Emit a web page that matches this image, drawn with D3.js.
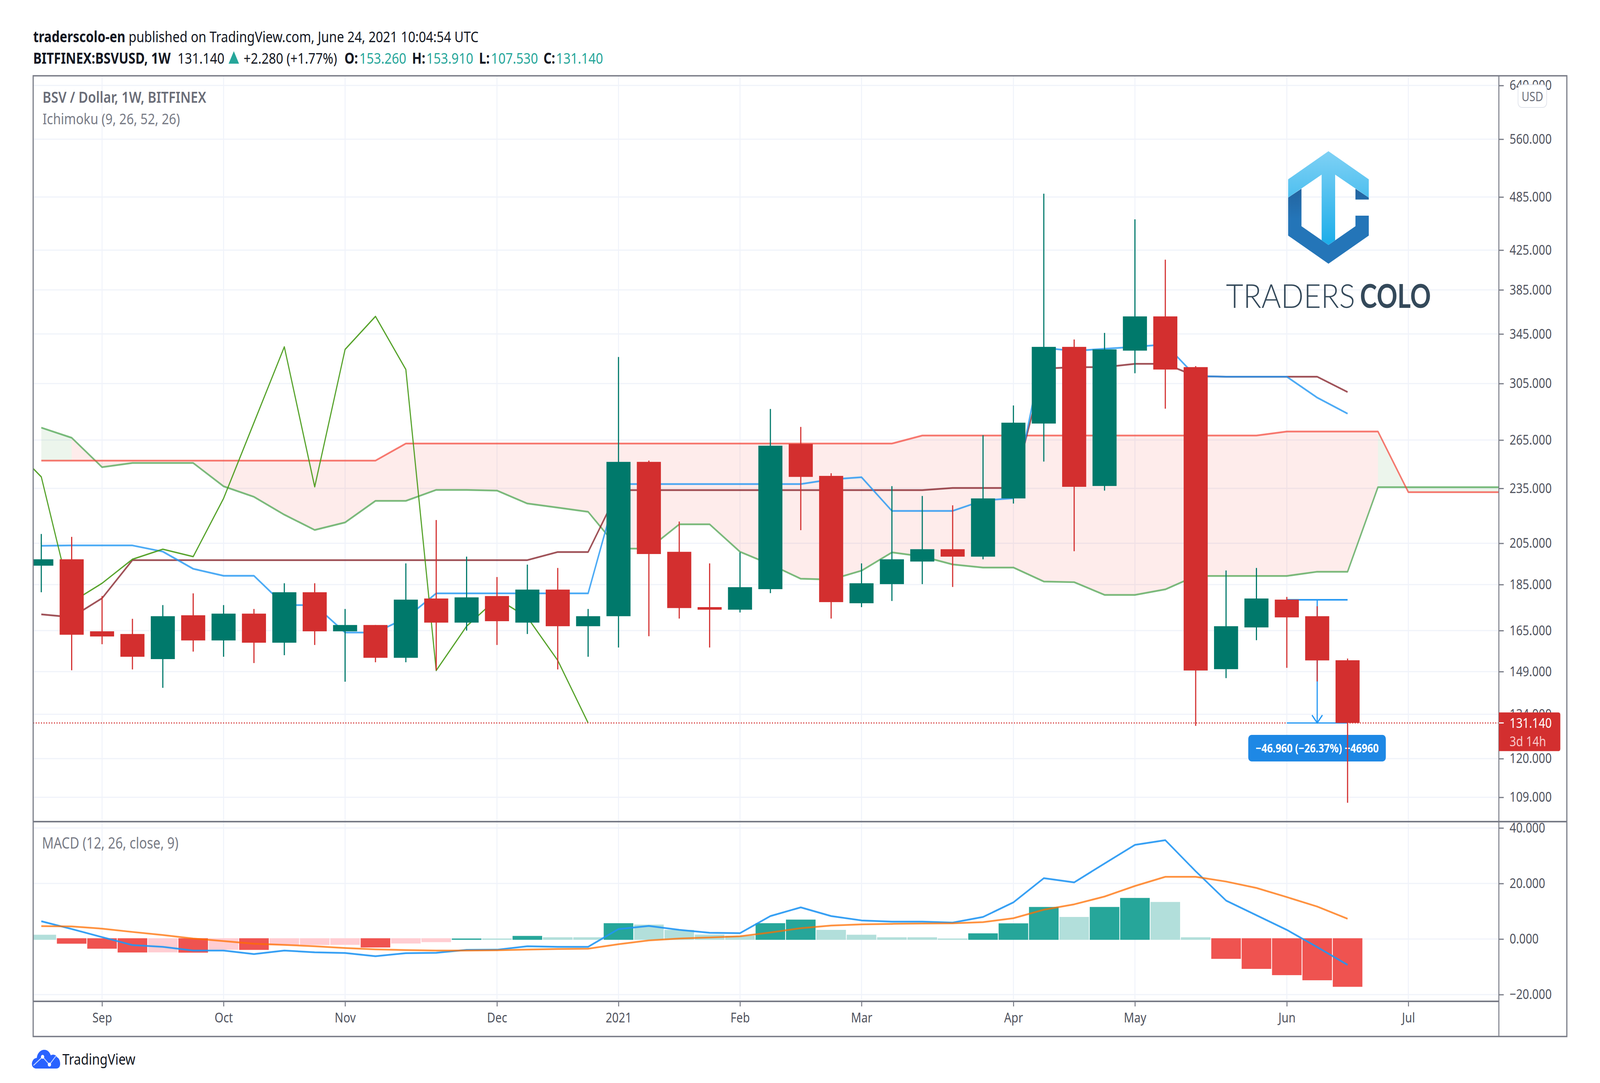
<!DOCTYPE html>
<html>
<head>
<meta charset="utf-8">
<style>
  html, body { margin: 0; padding: 0; background: #fff; width: 100%; height: 100%; overflow: hidden; }
  svg { display: block; width: 100vw; height: 100vh; font-family: "Noto Sans", sans-serif; }
</style>
<script src="https://cdn.jsdelivr.net/npm/d3@7/dist/d3.min.js"></script>
</head>
<body>
<div id="container"></div>
<script>
// weekly candles, index 0 = week of 17 Aug 2020
const open = [193.9,197.0,164.7,163.6,153.7,171.4,161.0,172.1,160.1,181.5,164.7,167.3,154.2,178.7,168.3,179.8,168.3,182.7,166.8,171.0,251.0,200.7,174.9,173.8,182.9,262.5,242.4,176.6,185.2,195.9,202.0,198.3,229.2,276.1,334.1,236.4,331.0,360.4,317.7,149.9,166.3,178.2,171.0,153.26];
const high = [209.8,208.3,179.8,169.9,175.8,181.0,175.8,174.1,185.6,185.6,174.1,167.3,195.0,217.2,198.3,188.5,194.4,192.8,174.1,325.8,251.8,216.4,195.0,200.4,286.3,273.8,244.0,195.0,236.3,230.6,225.3,268.2,288.8,489.0,340.3,345.9,458.8,415.0,318.5,191.6,192.8,179.4,175.3,153.91];
const low = [181.5,149.5,159.5,149.8,143.1,156.6,154.6,152.2,155.2,159.2,145.3,152.5,152.5,149.5,165.0,159.2,163.6,149.8,154.6,158.2,162.7,170.0,158.2,172.6,181.1,211.8,170.0,174.9,177.6,185.2,183.9,197.0,226.3,251.2,201.0,233.7,312.9,286.5,130.2,146.6,161.1,150.4,145.4,107.53];
const close = [197.0,163.3,162.6,154.6,171.0,161.0,172.1,160.1,181.5,164.7,167.3,154.2,178.2,168.3,179.2,168.9,182.7,166.8,171.0,251.0,199.6,174.5,173.8,183.8,261.3,241.8,177.1,185.6,197.0,202.0,198.3,229.2,276.7,334.1,235.9,332.0,360.4,315.8,149.4,166.8,178.7,170.5,153.2,131.14];

// ichimoku
const tenkan = [203.7,203.9,203.9,203.9,200.8,192.4,189.1,189.1,175.8,175.8,164.2,164.2,170.2,181.0,181.0,181.0,181.0,181.0,181.0,237.5,237.5,237.5,237.5,237.5,237.5,237.5,240.3,241.6,222.2,222.2,222.2,228.0,229.3,333.2,330.8,332.5,334.1,336.2,310.7,310.2,310.2,310.2,294.5,283.0];
const kijun = [171.8,170.6,178.8,196.6,196.6,196.6,196.6,196.6,196.6,196.6,196.6,196.6,196.6,196.6,196.6,196.6,196.6,200.6,200.6,234.0,234.0,234.0,234.0,234.0,234.0,234.0,234.0,234.0,234.0,234.0,235.2,235.2,235.2,316.5,317.7,317.7,320.3,320.3,310.6,310.2,310.2,310.2,310.2,298.6];
const spanA = [273.3,266.5,247.7,250.3,250.3,250.3,236.2,230.1,220.1,211.9,215.9,227.8,227.8,234.1,234.1,233.7,226.3,224.0,221.7,202.3,202.3,214.9,214.9,200.7,194.5,187.7,187.3,191.5,200.4,198.4,194.5,193.0,193.0,186.4,186.1,180.3,180.3,182.8,189.0,189.0,189.0,189.0,191.0,191.0,235.7,235.7,235.7,235.7,235.7];
const spanB = [251.8,251.8,251.8,251.8,251.8,251.8,251.8,251.8,251.8,251.8,251.8,251.8,262.7,262.7,262.7,262.7,262.7,262.7,262.7,262.7,262.7,262.7,262.7,262.7,262.7,262.7,262.7,262.7,262.7,268.0,268.0,268.0,268.0,268.0,268.0,268.0,268.0,268.0,268.0,268.0,268.0,270.7,270.7,270.7,270.7,232.8,232.8,232.8,232.8];
// lagging span starts one bar left of the first candle
const lagging = [261.3,241.8,177.1,185.6,197.0,202.0,198.3,229.2,276.7,334.1,235.9,332.0,360.4,315.8,149.4,166.8,178.7,170.5,153.2,131.14];

// macd pane
const histogram = [1.55,-1.68,-3.48,-4.84,-4.8,-4.9,-3.85,-3.91,-2.2,-2.15,-2.1,-3.04,-1.61,-1.12,0.19,0.19,1.12,0.62,0.62,5.7,5.2,3.3,1.6,1.2,5.7,7.0,3.3,1.55,0.62,0.62,0.19,2.05,5.65,11.55,7.95,11.55,14.8,13.35,0.62,-7.14,-10.75,-13.0,-14.85,-17.2];
const macdLine = [6.4,3.6,0.68,-2.17,-2.8,-4.16,-4.16,-5.4,-4.16,-4.78,-5.03,-6.2,-5.1,-4.97,-3.9,-3.85,-2.6,-2.8,-2.8,3.6,4.7,3.3,2.24,2.1,8.26,11.4,8.26,6.7,6.27,6.27,5.9,7.95,13.2,21.9,20.4,27.2,33.9,35.6,24.4,13.85,8.57,3.3,-2.9,-9.3];
const signalLine = [4.66,4.53,3.73,2.55,1.43,0.19,-0.75,-1.68,-2.11,-2.6,-3.23,-3.73,-3.98,-4.16,-4.16,-4.04,-3.79,-3.6,-3.48,-1.86,-0.5,0.19,0.56,1.0,2.36,3.9,4.84,5.28,5.47,5.6,5.65,6.09,7.5,10.56,12.5,15.3,19.1,22.4,22.4,20.7,18.4,15.1,11.7,7.3];

// axes
const priceTicks = [640,560,485,425,385,345,305,265,235,205,185,165,149,134,120,109];
const macdTicks = [40,20,0,-20];
const monthTicks = [2,6,10,15,19,23,27,32,36,41,45];
const monthLabels = ["Sep","Oct","Nov","Dec","2021","Feb","Mar","Apr","May","Jun","Jul"];

const lastPrice = 131.14;
const measureFrom = 178.1;
const measureBars = [41, 43];

const width = 4920;
const height = 2772;
const left = 102;
const right = 4609;
const outerRight = 4818;
const top_ = 194;
const paneSplit = 2103;
const paneBottom = 2563;
const bottom = 2653;

const up = "#00796b";
const down = "#d32f2f";
const gridColor = "#f0f3fa";
const borderColor = "#787b86";
const axisFont = 35;

// the window can be narrower than the chart, so the viewBox is stretched to fill it
const svg = d3.select("#container").append("svg")
    .attr("viewBox", `0 0 ${width} ${height}`)
    .attr("preserveAspectRatio", "none");

const defs = svg.append("defs");
defs.append("clipPath").attr("id", "clipPrice").append("rect")
    .attr("x", left).attr("y", top_).attr("width", right - left).attr("height", paneSplit - top_);
defs.append("clipPath").attr("id", "clipMacd").append("rect")
    .attr("x", left).attr("y", paneSplit).attr("width", right - left).attr("height", paneBottom - paneSplit);

const x = d3.scaleLinear().domain([-0.2676, 47.98]).range([left, right]);
const yPrice = d3.scaleLog().domain([102.6, 655.6]).range([paneSplit, top_]);
const yMacd = d3.scaleLinear().domain([-22.44, 42.28]).range([paneBottom, paneSplit]);

// grid
const grid = svg.append("g").attr("stroke", gridColor).attr("stroke-width", 3);
grid.selectAll("line.v").data(monthTicks).enter().append("line").attr("class", "v")
    .attr("x1", d => x(d)).attr("x2", d => x(d)).attr("y1", top_).attr("y2", paneBottom);
grid.selectAll("line.p").data(priceTicks).enter().append("line").attr("class", "p")
    .attr("x1", left).attr("x2", right).attr("y1", d => yPrice(d)).attr("y2", d => yPrice(d));
grid.selectAll("line.m").data(macdTicks).enter().append("line").attr("class", "m")
    .attr("x1", left).attr("x2", right).attr("y1", d => yMacd(d)).attr("y2", d => yMacd(d));

// watermark logo
drawLogo();

const main = svg.append("g").attr("clip-path", "url(#clipPrice)");

// cloud, one polygon per bar, coloured by the bar it ends on
const cloudArea = d3.area().x(d => x(d.i)).y0(d => yPrice(d.a)).y1(d => yPrice(d.b));
const cloudSegments = d3.range(spanA.length - 1).map(i => ([
    {i: i, a: spanA[i], b: spanB[i]},
    {i: i + 1, a: spanA[i + 1], b: spanB[i + 1]}
]));
main.selectAll("path.cloud").data(cloudSegments).enter().append("path")
    .attr("class", "cloud")
    .attr("d", cloudArea)
    .attr("fill", d => d[1].a > d[1].b ? "#43a047" : "#f44336")
    .attr("fill-opacity", 0.1);

function addLine(g, values, startIndex, yScale, color, w, opacity) {
    const line = d3.line().x((d, i) => x(i + startIndex)).y(d => yScale(d));
    g.append("path")
        .attr("d", line(values))
        .attr("fill", "none")
        .attr("stroke", color)
        .attr("stroke-width", w)
        .attr("stroke-opacity", opacity)
        .attr("stroke-linejoin", "round");
}

addLine(main, spanA, 0, yPrice, "#43a047", 4.5, 0.7);
addLine(main, spanB, 0, yPrice, "#f44336", 4.5, 0.7);
addLine(main, kijun, 0, yPrice, "#801922", 4.5, 0.75);
addLine(main, tenkan, 0, yPrice, "#2196f3", 4.5, 0.8);
addLine(main, lagging, -1, yPrice, "#459915", 3.5, 0.9);

// last price
main.append("line")
    .attr("x1", left).attr("x2", right)
    .attr("y1", yPrice(lastPrice)).attr("y2", yPrice(lastPrice))
    .attr("stroke", down).attr("stroke-width", 3).attr("stroke-dasharray", "3 5");

// measure tool, sits under the candles
const measure = main.append("g").attr("stroke", "#2196f3");
const midBar = d3.mean(measureBars);
measure.append("line").attr("x1", x(measureBars[0])).attr("x2", x(measureBars[1]))
    .attr("y1", yPrice(measureFrom)).attr("y2", yPrice(measureFrom)).attr("stroke-width", 4);
measure.append("line").attr("x1", x(measureBars[0])).attr("x2", x(measureBars[1]))
    .attr("y1", yPrice(lastPrice)).attr("y2", yPrice(lastPrice)).attr("stroke-width", 3);
measure.append("line").attr("x1", x(midBar)).attr("x2", x(midBar))
    .attr("y1", yPrice(measureFrom)).attr("y2", yPrice(lastPrice)).attr("stroke-width", 3.5);
measure.append("path")
    .attr("d", `M${x(midBar) - 16},${yPrice(lastPrice) - 20}L${x(midBar)},${yPrice(lastPrice)}L${x(midBar) + 16},${yPrice(lastPrice) - 20}`)
    .attr("fill", "none").attr("stroke-width", 3.5);

main.append("rect")
    .attr("x", x(midBar) - 212).attr("y", 1881)
    .attr("width", 423).attr("height", 68).attr("rx", 10)
    .attr("fill", "#1e88e5");
main.append("text")
    .attr("x", x(midBar)).attr("y", 1926)
    .attr("text-anchor", "middle")
    .attr("font-size", 30.5).attr("font-weight", 700).attr("fill", "#fff")
    .text("\u221246.960 (\u221226.37%) \u221246960");

// candles
const candles = main.append("g").selectAll("g").data(open).enter().append("g")
    .attr("fill", (d, i) => close[i] >= d ? up : down);
const bodyWidth = 74;
candles.append("rect")
    .attr("x", (d, i) => x(i) - 1.75)
    .attr("width", 3.5)
    .attr("y", (d, i) => yPrice(high[i]))
    .attr("height", (d, i) => yPrice(low[i]) - yPrice(high[i]));
candles.append("rect")
    .attr("x", (d, i) => x(i) - bodyWidth / 2)
    .attr("width", bodyWidth)
    .attr("y", (d, i) => yPrice(Math.max(d, close[i])))
    .attr("height", (d, i) => Math.max(3, Math.abs(yPrice(d) - yPrice(close[i]))));

// macd pane
const macdPane = svg.append("g").attr("clip-path", "url(#clipMacd)");
macdPane.selectAll("rect").data(histogram).enter().append("rect")
    .attr("x", (d, i) => x(i) - 45.5)
    .attr("width", 91)
    .attr("y", d => d >= 0 ? yMacd(d) : yMacd(0) - 2)
    .attr("height", d => Math.abs(yMacd(d) - yMacd(0)) + 2)
    .attr("fill", (d, i) => {
        const rising = i > 0 && d > histogram[i - 1];
        if (d >= 0) return rising ? "#26a69a" : "#b2dfdb";
        return rising ? "#ffcdd2" : "#ef5350";
    });
addLine(macdPane, macdLine, 0, yMacd, "#2196f3", 4.5, 0.9);
addLine(macdPane, signalLine, 0, yMacd, "#ff6d00", 4.5, 0.75);

// frame
const frame = svg.append("g").attr("stroke", borderColor).attr("fill", "none");
frame.append("rect").attr("x", left).attr("y", top_)
    .attr("width", outerRight - left).attr("height", bottom - top_).attr("stroke-width", 3.5);
frame.append("line").attr("x1", right).attr("x2", right).attr("y1", top_).attr("y2", bottom).attr("stroke-width", 3);
frame.append("line").attr("x1", left).attr("x2", outerRight).attr("y1", paneSplit).attr("y2", paneSplit).attr("stroke-width", 4);
frame.append("line").attr("x1", left).attr("x2", right).attr("y1", paneBottom).attr("y2", paneBottom).attr("stroke-width", 4);

// axes
function styleAxis(g) {
    g.select(".domain").remove();
    g.selectAll(".tick line").attr("stroke", borderColor).attr("stroke-width", 3);
    g.selectAll(".tick text")
        .attr("fill", "#50535e")
        .attr("font-size", axisFont)
        .attr("font-family", '"Noto Sans", sans-serif');
}

svg.append("g")
    .attr("transform", `translate(${right},0)`)
    .call(d3.axisRight(yPrice).tickValues(priceTicks).tickFormat(d3.format(".3f")).tickSize(15).tickPadding(18))
    .call(styleAxis);

svg.append("g")
    .attr("transform", `translate(${right},0)`)
    .call(d3.axisRight(yMacd).tickValues(macdTicks).tickFormat(d3.format(".3f")).tickSize(15).tickPadding(18))
    .call(styleAxis);

svg.append("g")
    .attr("transform", `translate(0,${paneBottom})`)
    .call(d3.axisBottom(x).tickValues(monthTicks).tickFormat((d, i) => monthLabels[i]).tickSize(13).tickPadding(16))
    .call(styleAxis);

// price label on the axis
const labelY = yPrice(lastPrice);
svg.append("path")
    .attr("d", `M${right},${labelY - 27}H4792q6,0 6,6V${labelY + 66}q0,6 -6,6H${right}Z`)
    .attr("fill", down);
svg.append("line").attr("x1", right).attr("x2", right + 15).attr("y1", labelY).attr("y2", labelY)
    .attr("stroke", "#fff").attr("stroke-width", 3);
svg.append("text").attr("x", 4642).attr("y", labelY + 13)
    .attr("font-size", axisFont).attr("fill", "#fff").text(d3.format(".3f")(lastPrice));
svg.append("text").attr("x", 4642).attr("y", labelY + 60)
    .attr("font-size", axisFont).attr("fill", "#f7c9c9").text("3d 14h");

// USD badge
svg.append("rect")
    .attr("x", 4668).attr("y", 217).attr("width", 88).attr("height", 58).attr("rx", 12)
    .attr("fill", "#fff").attr("stroke", "#e0e3eb").attr("stroke-width", 2);
svg.append("text").attr("x", 4712).attr("y", 259).attr("text-anchor", "middle")
    .attr("font-size", 33).attr("fill", "#6a6d78").text("USD");

// header text
const dark = "#131722";
const teal = "#26a69a";
const headerFont = 39;
function addText(px, py, str, color, weight, size) {
    return svg.append("text").attr("x", px).attr("y", py)
        .attr("font-size", size || headerFont)
        .attr("font-weight", weight || 400)
        .attr("fill", color)
        .text(str);
}
const head1 = addText(102, 108, "", dark);
head1.append("tspan").attr("font-weight", 700).text("traderscolo-en");
head1.append("tspan").text(" published on TradingView.com, June 24, 2021 10:04:54 UTC");
addText(102, 163, "BITFINEX:BSVUSD, 1W", dark, 700);
addText(546, 163, "131.140", dark);
svg.append("path").attr("d", "M703,163L719,131L735,163Z").attr("fill", teal);
addText(749, 163, "+2.280 (+1.77%)", dark);
addText(1059, 163, "O:", dark, 700);
addText(1105, 163, "153.260", teal);
addText(1267, 163, "H:", dark, 700);
addText(1311, 163, "153.910", teal);
addText(1473, 163, "L:", dark, 700);
addText(1510, 163, "107.530", teal);
addText(1671, 163, "C:", dark, 700);
addText(1710, 163, "131.140", teal);

// pane legends
addText(131, 263, "BSV / Dollar, 1W, BITFINEX", "#6a6d78", 600, 40);
addText(131, 318, "Ichimoku (9, 26, 52, 26)", "#787b86", 400, 39);
addText(129, 2172, "MACD (12, 26, close, 9)", "#787b86", 400, 39.7);

// tradingview mark
const tv = svg.append("g");
tv.append("path")
    .attr("d", "M112,2735C100,2735 95,2725 100,2716C103,2710 109,2708 113,2708C115,2694 126,2687 136,2687C146,2687 153,2693 156,2701C163,2698 172,2699 175,2706C182,2708 185,2716 185,2723C185,2731 180,2735 173,2735Z")
    .attr("fill", "#2962ff");
tv.append("polyline")
    .attr("points", "103,2727 131,2705 152,2725 172,2703")
    .attr("fill", "none").attr("stroke", "#fff").attr("stroke-opacity", 0.75).attr("stroke-width", 2.5);
tv.append("circle").attr("cx", 131).attr("cy", 2705).attr("r", 5).attr("fill", "#fff");
tv.append("circle").attr("cx", 152).attr("cy", 2725).attr("r", 5).attr("fill", "#fff");
addText(192, 2725, "TradingView", dark, 400, 39);

function drawLogo() {
    const grad = defs.append("linearGradient").attr("id", "logoLight")
        .attr("gradientUnits", "userSpaceOnUse")
        .attr("x1", 0).attr("x2", 0).attr("y1", 387).attr("y2", 627);
    grad.append("stop").attr("offset", 0).attr("stop-color", "#7fd1f5");
    grad.append("stop").attr("offset", 1).attr("stop-color", "#1cade9");
    const gradDark = defs.append("linearGradient").attr("id", "logoDark")
        .attr("gradientUnits", "userSpaceOnUse")
        .attr("x1", 0).attr("x2", 0).attr("y1", 483).attr("y2", 560);
    gradDark.append("stop").attr("offset", 0).attr("stop-color", "#23649f");
    gradDark.append("stop").attr("offset", 1).attr("stop-color", "#2475b8");

    const g = svg.append("g");
    g.append("path")
        .attr("d", "M3961,505.7L4002,483V579L4085,627L4168,579V552H4209V603L4085,675L3961,603Z")
        .attr("fill", "url(#logoDark)");
    g.append("path")
        .attr("d", "M4168,483L4209,505.7V510.7H4168Z")
        .attr("fill", "url(#logoDark)");
    g.append("path")
        .attr("d", "M4085,387L4209,459V505.7L4105.6,447V615L4085,627L4064,615V447L3961,505.7V459Z")
        .attr("fill", "url(#logoLight)");

    g.append("text").attr("x", 3770).attr("y", 788)
        .attr("font-family", "Lato, sans-serif").attr("font-weight", 300)
        .attr("font-size", 85).attr("fill", "#34495a")
        .attr("textLength", 397).attr("lengthAdjust", "spacingAndGlyphs")
        .text("TRADERS");
    g.append("text").attr("x", 4182).attr("y", 788)
        .attr("font-family", "Lato, sans-serif").attr("font-weight", 700)
        .attr("font-size", 85).attr("fill", "#34495a")
        .attr("textLength", 218).attr("lengthAdjust", "spacingAndGlyphs")
        .text("COLO");
}
</script>
</body>
</html>
